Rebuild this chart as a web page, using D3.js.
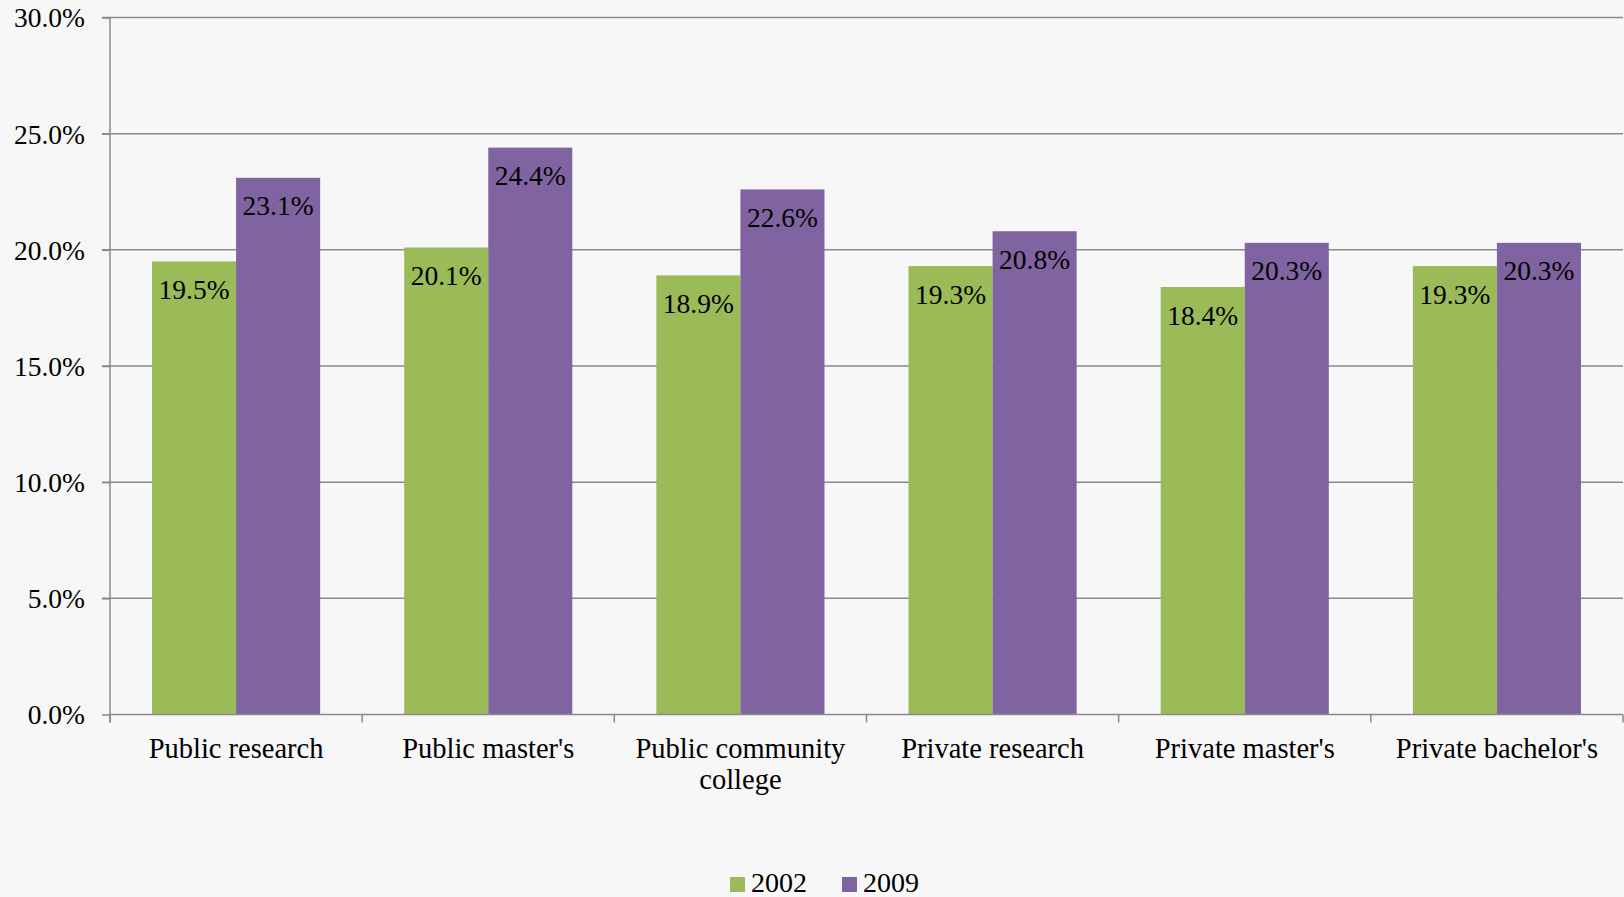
<!DOCTYPE html>
<html>
<head>
<meta charset="utf-8">
<script src="https://cdn.jsdelivr.net/npm/d3@7"></script>
<style>
  html, body { margin: 0; padding: 0; background: #f7f7f7; }
  svg { display: block; }
  text { font-family: "Liberation Serif", "DejaVu Serif", serif; fill: #000; }
</style>
</head>
<body>
<svg id="chart" width="1624" height="897"></svg>
<script>
const categories = ["Public research", "Public master's", "Public community college", "Private research", "Private master's", "Private bachelor's"];
const seriesNames = ["2002", "2009"];
const values2002 = [19.5, 20.1, 18.9, 19.3, 18.4, 19.3];
const values2009 = [23.1, 24.4, 22.6, 20.8, 20.3, 20.3];
const yTicks = [0, 5, 10, 15, 20, 25, 30];
const colors = ["#9bbb59", "#8064a2"];

(function () {
const seriesValues = [values2002, values2009];
const data = categories.map((c, i) => ({
  category: c,
  values: seriesNames.map((s, j) => ({ series: s, value: seriesValues[j][i] }))
}));

const svg = d3.select("#chart");
const mLeft = 110, mRight = 1623, mTop = 17.5, mBottom = 714.5;
const fontSize = 27.5;
const catFontSize = 28.5;
const gridColor = "#8a8a8a";

const x = d3.scaleBand().domain(categories).range([mLeft, mRight]).padding(0);
const bw = x.bandwidth();
const x1 = d3.scaleBand().domain(seriesNames).range([bw / 6, bw * 5 / 6]).padding(0);
const y = d3.scaleLinear().domain([0, 30]).range([mBottom, mTop]);
const color = d3.scaleOrdinal().domain(seriesNames).range(colors);

// gridlines
svg.append("g")
  .selectAll("line")
  .data(yTicks.filter(t => t > 0))
  .join("line")
  .attr("x1", mLeft - 8).attr("x2", mRight)
  .attr("y1", d => y(d)).attr("y2", d => y(d))
  .attr("stroke", gridColor).attr("stroke-width", 1.5);

// bars
const groups = svg.append("g")
  .selectAll("g")
  .data(data)
  .join("g")
  .attr("transform", d => `translate(${x(d.category)},0)`);

groups.selectAll("rect")
  .data(d => d.values)
  .join("rect")
  .attr("x", d => x1(d.series))
  .attr("width", x1.bandwidth())
  .attr("y", d => y(d.value))
  .attr("height", d => y(0) - y(d.value))
  .attr("fill", d => color(d.series));

groups.selectAll("text.lbl")
  .data(d => d.values)
  .join("text")
  .attr("class", "lbl")
  .attr("x", d => x1(d.series) + x1.bandwidth() / 2)
  .attr("y", d => y(d.value) + 37.5)
  .attr("text-anchor", "middle")
  .style("font-size", fontSize + "px")
  .text(d => d.value.toFixed(1) + "%");

// y axis
const yAxis = d3.axisLeft(y)
  .tickValues(yTicks)
  .tickSize(8)
  .tickFormat(d => d.toFixed(1) + "%");
const yg = svg.append("g").attr("transform", `translate(${mLeft},0)`).call(yAxis);
yg.select(".domain").attr("stroke", gridColor).attr("stroke-width", 1.5).attr("d", `M0,${mTop}V${mBottom + 8}`);
yg.selectAll(".tick line").attr("stroke", gridColor).attr("stroke-width", 1.5);
yg.selectAll(".tick text")
  .attr("x", -25)
  .attr("dy", "0.34em")
  .style("font-size", fontSize + "px")
  .style("font-family", '"Liberation Serif", serif')
  .attr("fill", "#000");

// x axis
const xg = svg.append("g").attr("transform", `translate(0,${mBottom})`);
xg.append("line")
  .attr("x1", mLeft).attr("x2", mRight)
  .attr("y1", 0).attr("y2", 0)
  .attr("stroke", gridColor).attr("stroke-width", 1.5);
const boundaries = categories.map(c => x(c) + bw).concat([mLeft]);
xg.selectAll("line.tk")
  .data(boundaries)
  .join("line")
  .attr("class", "tk")
  .attr("x1", d => d).attr("x2", d => d)
  .attr("y1", 0).attr("y2", 8)
  .attr("stroke", gridColor).attr("stroke-width", 1.5);

const catLabels = xg.selectAll("text.cat")
  .data(categories)
  .join("text")
  .attr("class", "cat")
  .attr("x", d => x(d) + bw / 2)
  .attr("y", 43)
  .attr("text-anchor", "middle")
  .style("font-size", catFontSize + "px");

function wrap(sel, maxW) {
  sel.each(function(d) {
    const t = d3.select(this);
    const words = d.split(/\s+/);
    const cx = t.attr("x");
    let line = [];
    let tspan = t.append("tspan").attr("x", cx).attr("dy", 0);
    words.forEach(w => {
      line.push(w);
      tspan.text(line.join(" "));
      if (tspan.node().getComputedTextLength() > maxW && line.length > 1) {
        line.pop();
        tspan.text(line.join(" "));
        line = [w];
        tspan = t.append("tspan").attr("x", cx).attr("dy", 31).text(w);
      }
    });
  });
}
catLabels.call(wrap, 232);

// legend
const legend = svg.append("g");
const legendX = [730, 842];
seriesNames.forEach((s, i) => {
  legend.append("rect")
    .attr("x", legendX[i]).attr("y", 877)
    .attr("width", 15).attr("height", 15)
    .attr("fill", color(s));
  legend.append("text")
    .attr("x", legendX[i] + 21).attr("y", 892)
    .style("font-size", "28px")
    .text(s);
});
})();
</script>
</body>
</html>
